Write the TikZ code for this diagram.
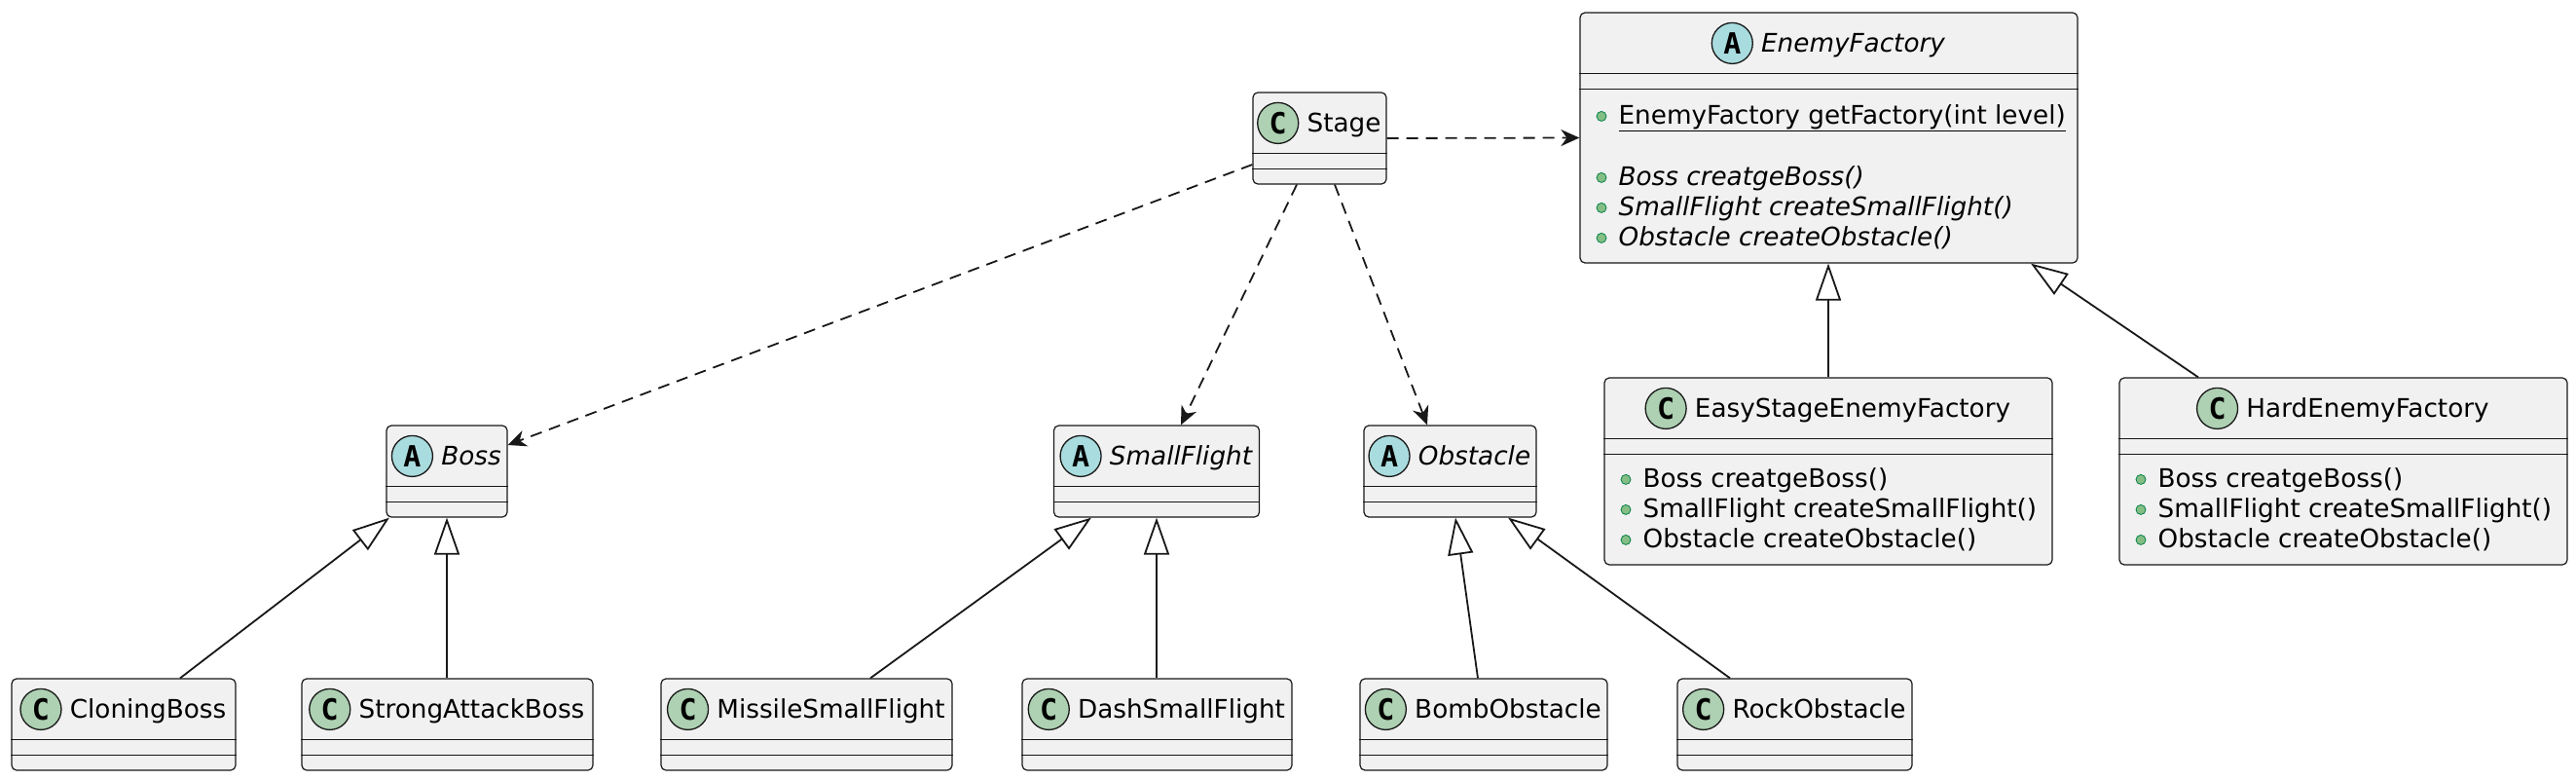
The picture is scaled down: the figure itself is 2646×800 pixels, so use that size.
\documentclass[tikz,border=0pt]{standalone}
\usepackage{fontspec}
\setmainfont{DejaVu Sans}
\setmonofont{DejaVu Sans Mono}
\usepackage{tikz}
\usetikzlibrary{positioning,arrows.meta}

\definecolor{boxgray}{HTML}{F1F1F1}
\definecolor{linegray}{HTML}{181818}
\definecolor{cgreen}{HTML}{ADD1B2}
\definecolor{ablue}{HTML}{A9DCDF}
\definecolor{pubfill}{HTML}{84BE84}
\definecolor{pubdraw}{HTML}{038048}

\newcommand{\umlfont}{\fontsize{26.25pt}{31pt}\selectfont}
\newcommand{\markfont}{\fontsize{30pt}{30pt}\selectfont\ttfamily\bfseries}

\tikzset{
  classbox/.style={draw=linegray, line width=1.2pt, fill=boxgray, rounded corners=5pt, inner sep=0pt},
  sepline/.style={draw=linegray, line width=1.2pt},
  markC/.style={circle, draw=linegray, line width=1.3pt, fill=cgreen, minimum size=42pt, inner sep=0pt, font=\markfont},
  markA/.style={markC, fill=ablue},
  titleC/.style={inner sep=0pt, font=\umlfont, text height=19pt, text depth=1pt},
  titleA/.style={titleC, font=\umlfont\itshape},
  member/.style={anchor=west, inner sep=0pt, font=\umlfont, text height=18pt, text depth=2pt},
  bullet/.style={circle, draw=pubdraw, line width=0.8pt, fill=pubfill, minimum size=10pt, inner sep=0pt},
  depend/.style={draw=linegray, line width=1.8pt, dash pattern=on 12pt off 8pt, -{Stealth[length=19pt, width=17pt, inset=6pt]}},
  extends/.style={draw=linegray, line width=1.8pt, -{Triangle[open, length=38pt, width=26pt]}}
}

% class box: name, centre, width, height, kind (C or A), title
\newcommand{\umlclass}[6]{%
  \path #2 node (#1) [classbox, minimum width=#3, minimum height=#4] {};
  \draw [sepline] ([yshift=-63pt]#1.north west) -- ([yshift=-63pt]#1.north east);
  \draw [sepline] ([yshift=-79pt]#1.north west) -- ([yshift=-79pt]#1.north east);
  \path ([xshift=25pt,yshift=-32pt]#1.north) node (#1-title) [title#5] {#6};
  \path node (#1-mark) [mark#5, left=8pt of #1-title] {#5};
}

\begin{document}
\begin{tikzpicture}[x=1pt,y=-1pt]
\useasboundingbox (0,0) rectangle (2646,800);

% top row
\umlclass{stage}{(1355.5,142)}{137}{94}{C}{Stage}
\umlclass{enemy}{(1878.5,141.5)}{511}{257}{A}{EnemyFactory}

% middle row
\umlclass{boss}{(459,484)}{124}{94}{A}{Boss}
\umlclass{smallflight}{(1188,484)}{211}{94}{A}{SmallFlight}
\umlclass{obstacle}{(1489.5,484)}{177}{94}{A}{Obstacle}
\umlclass{easy}{(1878,484)}{460}{192}{C}{EasyStageEnemyFactory}
\umlclass{hard}{(2407,484)}{460}{192}{C}{HardEnemyFactory}

% bottom row
\umlclass{cloning}{(127,744)}{230}{94}{C}{CloningBoss}
\umlclass{strong}{(459.5,744)}{299}{94}{C}{StrongAttackBoss}
\umlclass{missile}{(828.5,744)}{299}{94}{C}{MissileSmallFlight}
\umlclass{dash}{(1188.5,744)}{277}{94}{C}{DashSmallFlight}
\umlclass{bomb}{(1524,744)}{254}{94}{C}{BombObstacle}
\umlclass{rock}{(1843.5,744)}{241}{94}{C}{RockObstacle}

% members of EnemyFactory
\path ([xshift=40pt,yshift=-107pt]enemy.north west) node (enemy-m1) [member] {\underline{EnemyFactory getFactory(int level)}};
\path ([xshift=40pt,yshift=-170pt]enemy.north west) node (enemy-m2) [member] {\itshape Boss creatgeBoss()};
\path ([xshift=40pt,yshift=-201pt]enemy.north west) node (enemy-m3) [member] {\itshape SmallFlight createSmallFlight()};
\path ([xshift=40pt,yshift=-232pt]enemy.north west) node (enemy-m4) [member] {\itshape Obstacle createObstacle()};
\foreach \i in {1,...,4}
  \node [bullet, left=12pt of enemy-m\i] {};

% members of the two factories
\foreach \cls in {easy,hard} {
  \path ([xshift=40pt,yshift=-105pt]\cls.north west) node (\cls-m1) [member] {Boss creatgeBoss()};
  \path ([xshift=40pt,yshift=-136pt]\cls.north west) node (\cls-m2) [member] {SmallFlight createSmallFlight()};
  \path ([xshift=40pt,yshift=-167pt]\cls.north west) node (\cls-m3) [member] {Obstacle createObstacle()};
  \foreach \i in {1,2,3}
    \node [bullet, left=12pt of \cls-m\i] {};
}

% dependencies
\draw [depend] (stage.east) -- (enemy.west);
\draw [depend] ([yshift=-27pt]stage.west) -- ([yshift=27pt]boss.east);
\draw [depend] ([xshift=-23.5pt]stage.south) -- ([xshift=25pt]smallflight.north);
\draw [depend] ([xshift=15.5pt]stage.south) -- ([xshift=-23.5pt]obstacle.north);

% generalisations
\draw [extends] ([xshift=58pt]cloning.north) -- ([xshift=-59pt]boss.south);
\draw [extends] (strong.north -| boss.south) -- (boss.south);
\draw [extends] ([xshift=65.5pt]missile.north) -- ([xshift=-67pt]smallflight.south);
\draw [extends] (dash.north -| smallflight.south) -- (smallflight.south);
\draw [extends] ([xshift=-6pt]bomb.north) -- ([xshift=5.5pt]obstacle.south);
\draw [extends] ([xshift=-66.5pt]rock.north) -- ([xshift=59.5pt]obstacle.south);
\draw [extends] (easy.north) -- (easy.north |- enemy.south);
\draw [extends] ([xshift=-149pt]hard.north) -- ([xshift=207.5pt]enemy.south);
\end{tikzpicture}
\end{document}
